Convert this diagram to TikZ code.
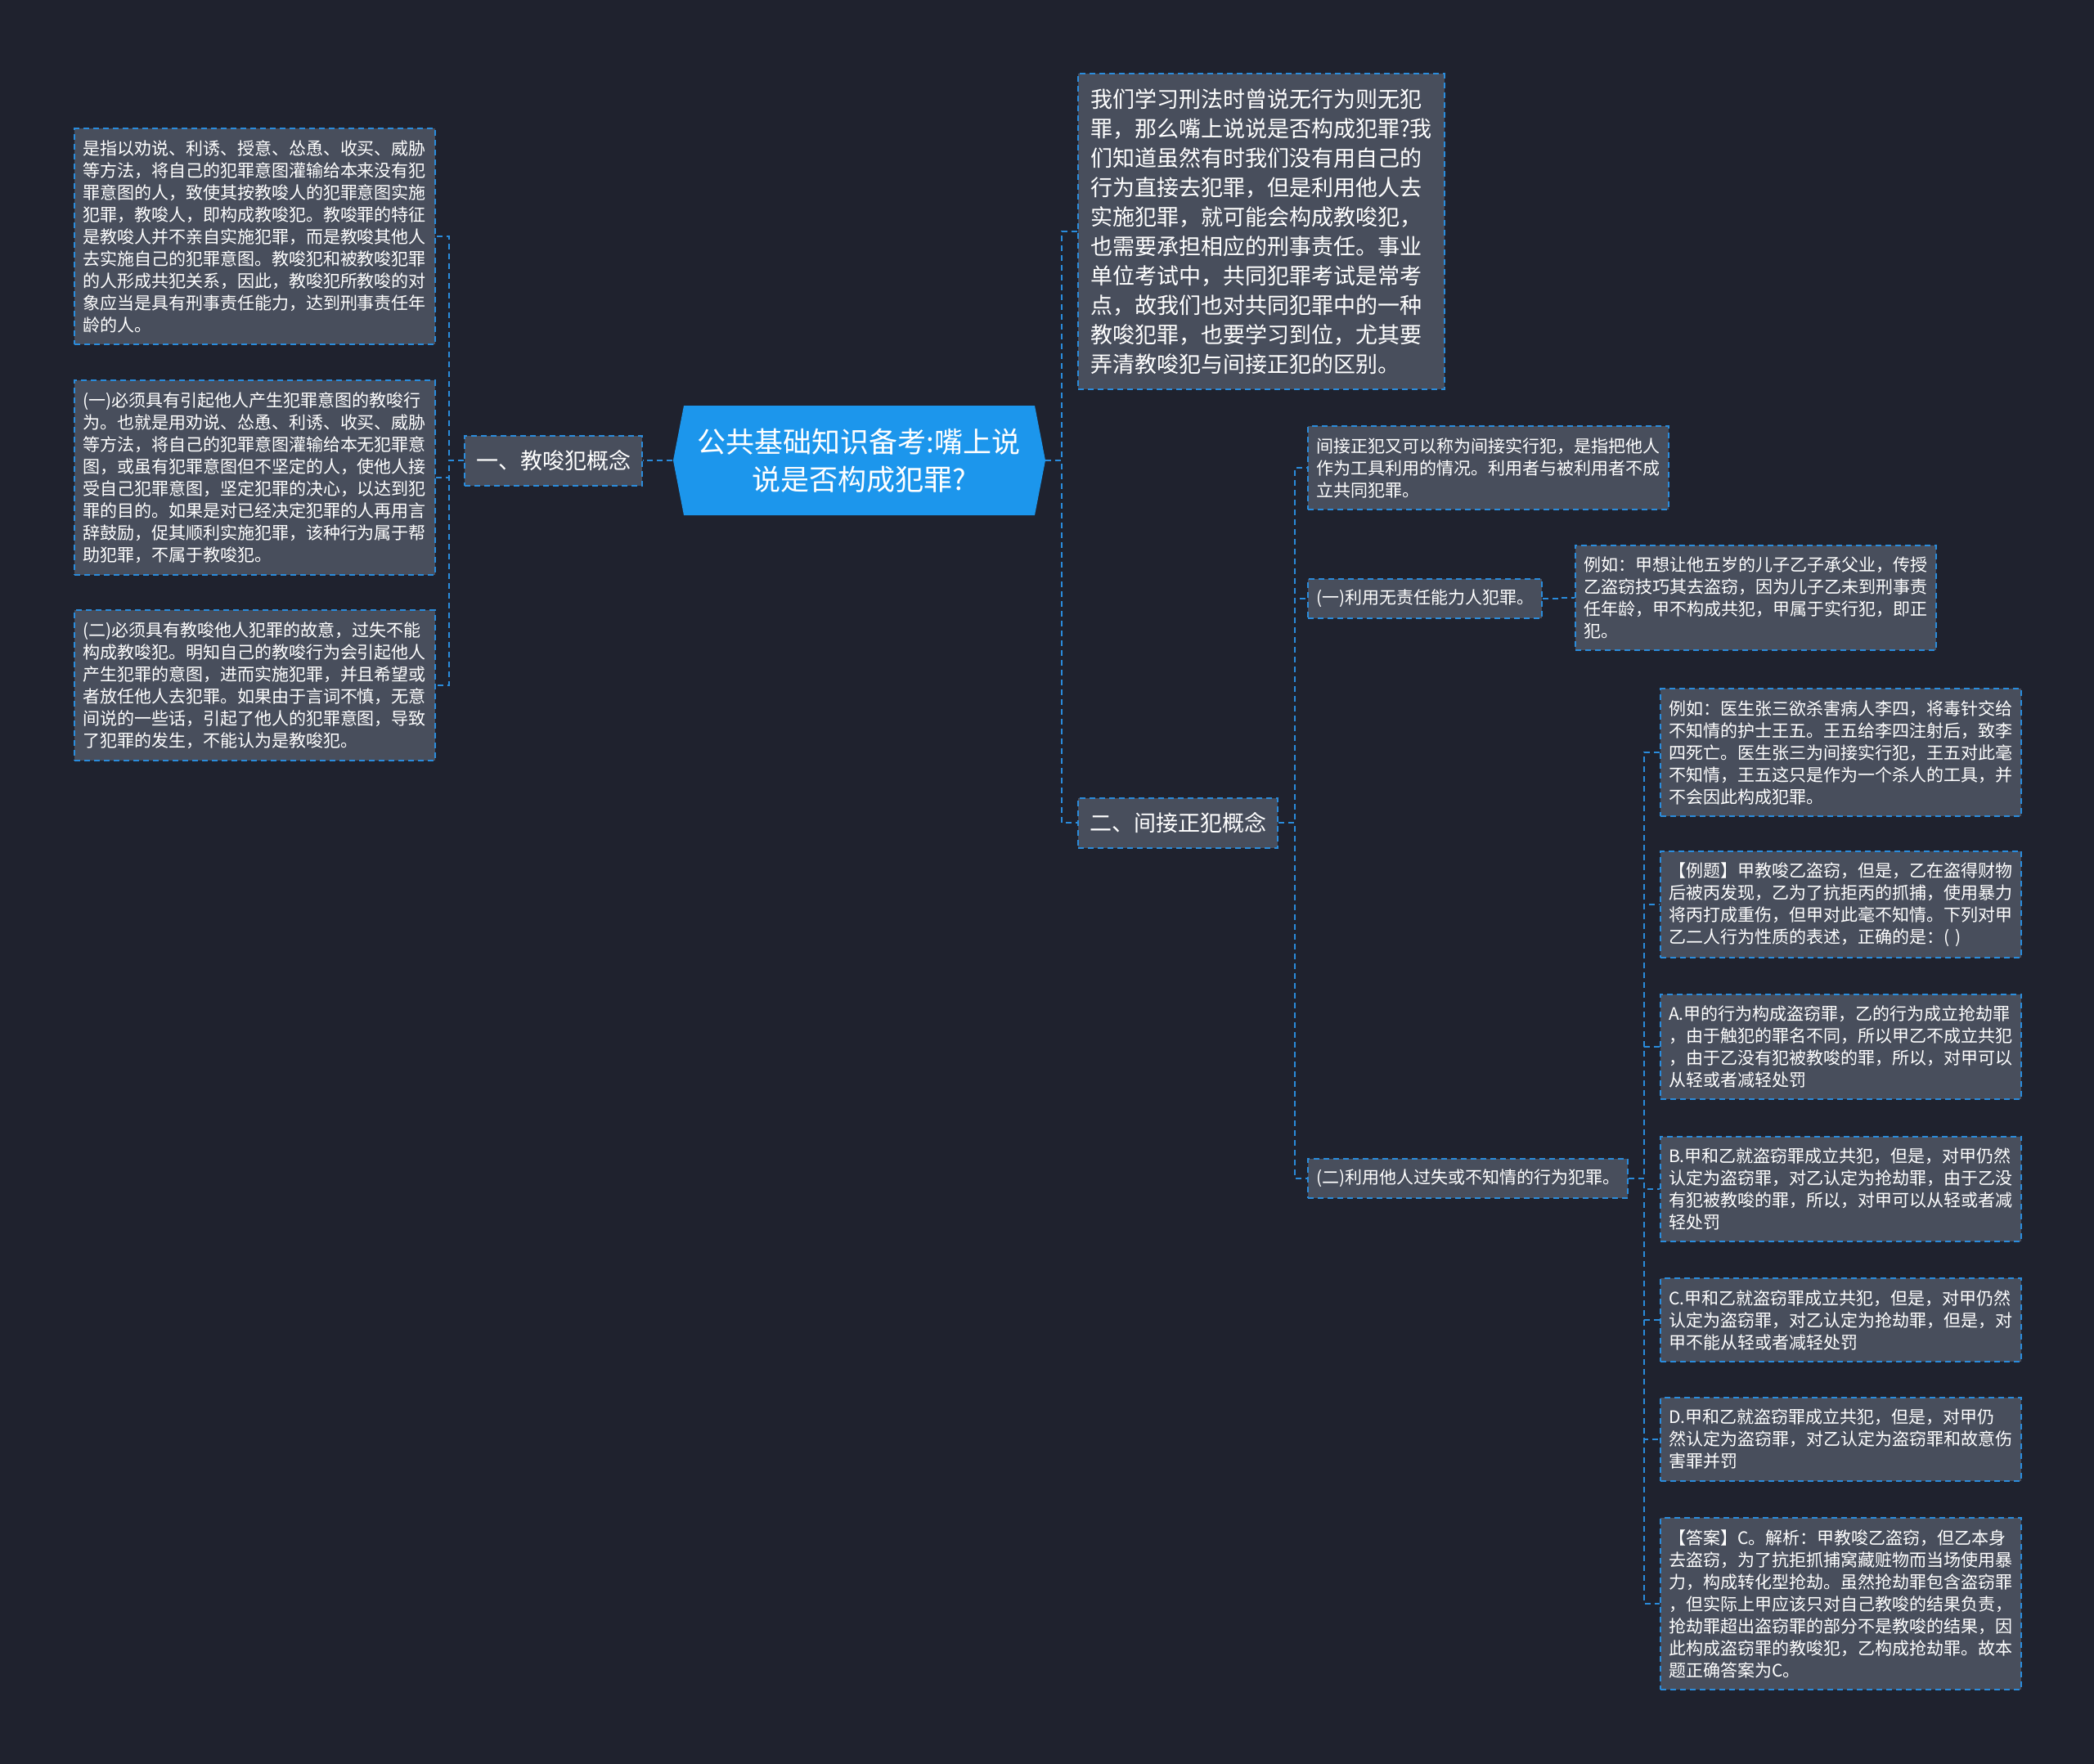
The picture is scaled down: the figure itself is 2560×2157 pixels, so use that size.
\documentclass[tikz,border=0pt]{standalone}
\usepackage{fontspec}
\newfontfamily\cjk{Noto Sans CJK SC}
\definecolor{bgnavy}{RGB}{31,34,46}
\definecolor{boxgray}{RGB}{72,78,92}
\definecolor{lineblue}{RGB}{42,140,220}
\definecolor{rootblue}{RGB}{28,150,236}

\begin{document}
\begin{tikzpicture}[x=1pt,y=-1pt,
  conn/.style={draw=lineblue,line width=2pt,dash pattern=on 7pt off 5pt},
  card/.style={draw=lineblue,line width=2pt,dash pattern=on 7pt off 5pt,fill=boxgray,
    text=white,anchor=west,align=left,inner xsep=10pt,inner ysep=14pt,text width=421pt,
    font=\cjk\fontsize{21pt}{27pt}\selectfont},
  bigcard/.style={card,inner xsep=15pt,inner ysep=18pt,text width=418pt,
    font=\cjk\fontsize{27pt}{36pt}\selectfont},
  branch/.style={draw=lineblue,line width=2pt,dash pattern=on 7pt off 5pt,fill=boxgray,
    text=white,anchor=west,inner xsep=14pt,minimum height=61pt,
    font=\cjk\fontsize{27pt}{32pt}\selectfont},
  sub/.style={branch,inner xsep=10pt,minimum height=48pt,
    font=\cjk\fontsize{21pt}{26pt}\selectfont}]
  \path[use as bounding box,fill=bgnavy] (0,0) rectangle (2560,2157);

  % title
  \fill[rootblue] (836,496) -- (1265,496) -- (1278,563) -- (1265,630) -- (836,630) -- (823,563) -- cycle;
  \node[text=white,align=center,minimum width=455pt,minimum height=134pt,inner sep=0pt,
    font=\cjk\fontsize{35pt}{46pt}\selectfont] (T) at (1050,563)
    {公共基础知识备考:嘴上说\\说是否构成犯罪?};

  % left side
  \node[branch] (A) at (567,563) {一、教唆犯概念};
  \node[card] (A1) at (90,289) {是指以劝说、利诱、授意、怂恿、收买、威胁\\
    等方法，将自己的犯罪意图灌输给本来没有犯\\
    罪意图的人，致使其按教唆人的犯罪意图实施\\
    犯罪，教唆人，即构成教唆犯。教唆罪的特征\\
    是教唆人并不亲自实施犯罪，而是教唆其他人\\
    去实施自己的犯罪意图。教唆犯和被教唆犯罪\\
    的人形成共犯关系，因此，教唆犯所教唆的对\\
    象应当是具有刑事责任能力，达到刑事责任年\\
    龄的人。};
  \node[card] (A2) at (90,584) {(一)必须具有引起他人产生犯罪意图的教唆行\\
    为。也就是用劝说、怂恿、利诱、收买、威胁\\
    等方法，将自己的犯罪意图灌输给本无犯罪意\\
    图，或虽有犯罪意图但不坚定的人，使他人接\\
    受自己犯罪意图，坚定犯罪的决心，以达到犯\\
    罪的目的。如果是对已经决定犯罪的人再用言\\
    辞鼓励，促其顺利实施犯罪，该种行为属于帮\\
    助犯罪，不属于教唆犯。};
  \node[card] (A3) at (90,838) {(二)必须具有教唆他人犯罪的故意，过失不能\\
    构成教唆犯。明知自己的教唆行为会引起他人\\
    产生犯罪的意图，进而实施犯罪，并且希望或\\
    者放任他人去犯罪。如果由于言词不慎，无意\\
    间说的一些话，引起了他人的犯罪意图，导致\\
    了犯罪的发生，不能认为是教唆犯。};

  % right side
  \node[bigcard] (P) at (1317,283) {我们学习刑法时曾说无行为则无犯\\
    罪，那么嘴上说说是否构成犯罪?我\\
    们知道虽然有时我们没有用自己的\\
    行为直接去犯罪，但是利用他人去\\
    实施犯罪，就可能会构成教唆犯，\\
    也需要承担相应的刑事责任。事业\\
    单位考试中，共同犯罪考试是常考\\
    点，故我们也对共同犯罪中的一种\\
    教唆犯罪，也要学习到位，尤其要\\
    弄清教唆犯与间接正犯的区别。};
  \node[branch] (B) at (1317,1006) {二、间接正犯概念};
  \node[card] (B1) at (1598,572) {间接正犯又可以称为间接实行犯，是指把他人\\
    作为工具利用的情况。利用者与被利用者不成\\
    立共同犯罪。};
  \node[sub] (B2) at (1598,732) {(一)利用无责任能力人犯罪。};
  \node[card] (E) at (1925,731) {例如：甲想让他五岁的儿子乙子承父业，传授\\
    乙盗窃技巧其去盗窃，因为儿子乙未到刑事责\\
    任年龄，甲不构成共犯，甲属于实行犯，即正\\
    犯。};
  \node[sub] (B3) at (1598,1441) {(二)利用他人过失或不知情的行为犯罪。};

  \node[card] (C1) at (2029,920) {例如：医生张三欲杀害病人李四，将毒针交给\\
    不知情的护士王五。王五给李四注射后，致李\\
    四死亡。医生张三为间接实行犯，王五对此毫\\
    不知情，王五这只是作为一个杀人的工具，并\\
    不会因此构成犯罪。};
  \node[card] (C2) at (2029,1106) {【例题】甲教唆乙盗窃，但是，乙在盗得财物\\
    后被丙发现，乙为了抗拒丙的抓捕，使用暴力\\
    将丙打成重伤，但甲对此毫不知情。下列对甲\\
    乙二人行为性质的表述，正确的是：( )};
  \node[card] (C3) at (2029,1280) {A.甲的行为构成盗窃罪，乙的行为成立抢劫罪\\
    ，由于触犯的罪名不同，所以甲乙不成立共犯\\
    ，由于乙没有犯被教唆的罪，所以，对甲可以\\
    从轻或者减轻处罚};
  \node[card] (C4) at (2029,1454) {B.甲和乙就盗窃罪成立共犯，但是，对甲仍然\\
    认定为盗窃罪，对乙认定为抢劫罪，由于乙没\\
    有犯被教唆的罪，所以，对甲可以从轻或者减\\
    轻处罚};
  \node[card] (C5) at (2029,1614) {C.甲和乙就盗窃罪成立共犯，但是，对甲仍然\\
    认定为盗窃罪，对乙认定为抢劫罪，但是，对\\
    甲不能从轻或者减轻处罚};
  \node[card] (C6) at (2029,1760) {D.甲和乙就盗窃罪成立共犯，但是，对甲仍\\
    然认定为盗窃罪，对乙认定为盗窃罪和故意伤\\
    害罪并罚};
  \node[card] (C7) at (2029,1961) {【答案】C。解析：甲教唆乙盗窃，但乙本身\\
    去盗窃，为了抗拒抓捕窝藏赃物而当场使用暴\\
    力，构成转化型抢劫。虽然抢劫罪包含盗窃罪\\
    ，但实际上甲应该只对自己教唆的结果负责，\\
    抢劫罪超出盗窃罪的部分不是教唆的结果，因\\
    此构成盗窃罪的教唆犯，乙构成抢劫罪。故本\\
    题正确答案为C。};

  % connectors
  \draw[conn] (T.west) -- (A.east);
  \draw[conn] (A.west) -- ++(-18,0) |- (A1.east);
  \draw[conn] (A.west) -- ++(-18,0) |- (A2.east);
  \draw[conn] (A.west) -- ++(-18,0) |- (A3.east);
  \draw[conn] (T.east) -- ++(20,0) |- (P.west);
  \draw[conn] (T.east) -- ++(20,0) |- (B.west);
  \draw[conn] (B.east) -- ++(20,0) |- (B1.west);
  \draw[conn] (B.east) -- ++(20,0) |- (B2.west);
  \draw[conn] (B.east) -- ++(20,0) |- (B3.west);
  \draw[conn] (B2.east) -- ++(19,0) |- (E.west);
  \foreach \i in {1,...,7}
    \draw[conn] (B3.east) -- ++(19,0) |- (C\i.west);
\end{tikzpicture}
\end{document}
